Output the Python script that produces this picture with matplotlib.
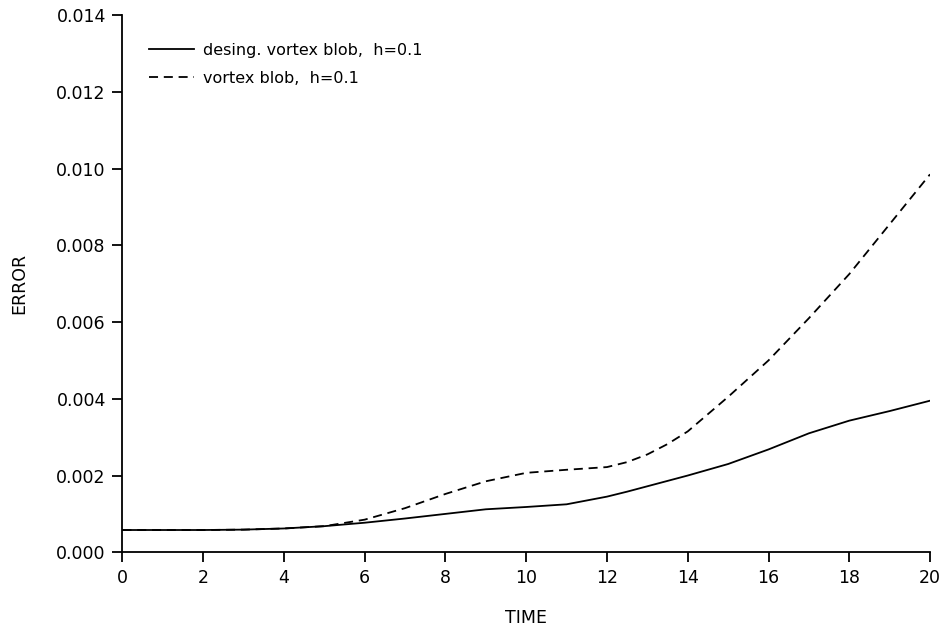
import numpy as np
import matplotlib
matplotlib.use('AGG')
import matplotlib.pyplot as plt

# values
time = [0, 1, 2, 3, 4, 5, 6, 7, 8, 9, 10, 11, 12, 12.5, 13, 13.5, 14, 15, 16, 17, 18, 19, 20]
err_desing = [0.00058, 0.00058, 0.00058, 0.00059, 0.00062, 0.00068, 0.00077,
              0.00088, 0.00100, 0.00112, 0.00118, 0.00125, 0.00145, 0.00158,
              0.00172, 0.00186, 0.00200, 0.00230, 0.00268, 0.00310, 0.00343,
              0.00368, 0.00395]
err_blob = [0.00058, 0.00058, 0.00058, 0.00059, 0.00062, 0.00068, 0.00085,
            0.00115, 0.00152, 0.00185, 0.00207, 0.00215, 0.00222, 0.00235,
            0.00255, 0.00282, 0.00315, 0.00405, 0.00500, 0.00610, 0.00725,
            0.00855, 0.00985]
xticks = [0, 2, 4, 6, 8, 10, 12, 14, 16, 18, 20]
yticks = [0.000, 0.002, 0.004, 0.006, 0.008, 0.010, 0.012, 0.014]

plt.rcParams['font.family'] = ['DejaVu Sans']

fig = plt.figure(figsize=(9.49, 6.29), dpi=100)
ax = fig.add_axes([0.129, 0.122, 0.851, 0.854])

ax.plot(time, err_desing, color='black', lw=1.3, label='desing. vortex blob,  h=0.1')
ax.plot(time, err_blob, color='black', lw=1.3, dashes=(5, 3.2), label='vortex blob,  h=0.1')

ax.set_xlim(0, 20)
ax.set_ylim(0, 0.014)
ax.set_xticks(xticks)
ax.set_yticks(yticks)
ax.set_yticklabels(['%.3f' % v for v in yticks])
ax.spines['top'].set_visible(False)
ax.spines['right'].set_visible(False)
ax.spines['left'].set_linewidth(1.3)
ax.spines['bottom'].set_linewidth(1.3)
ax.tick_params(direction='out', length=7, width=1.3, labelsize=12.5, pad=5)

ax.set_xlabel('TIME', fontsize=12.5, labelpad=16)
ax.set_ylabel('ERROR', fontsize=12.5, labelpad=20)

ax.legend(loc='upper left', bbox_to_anchor=(0.015, 0.975), frameon=False,
          handlelength=2.8, handletextpad=0.6, labelspacing=0.8, fontsize=11.5)

fig.savefig('out.png', dpi=100, facecolor='white')
